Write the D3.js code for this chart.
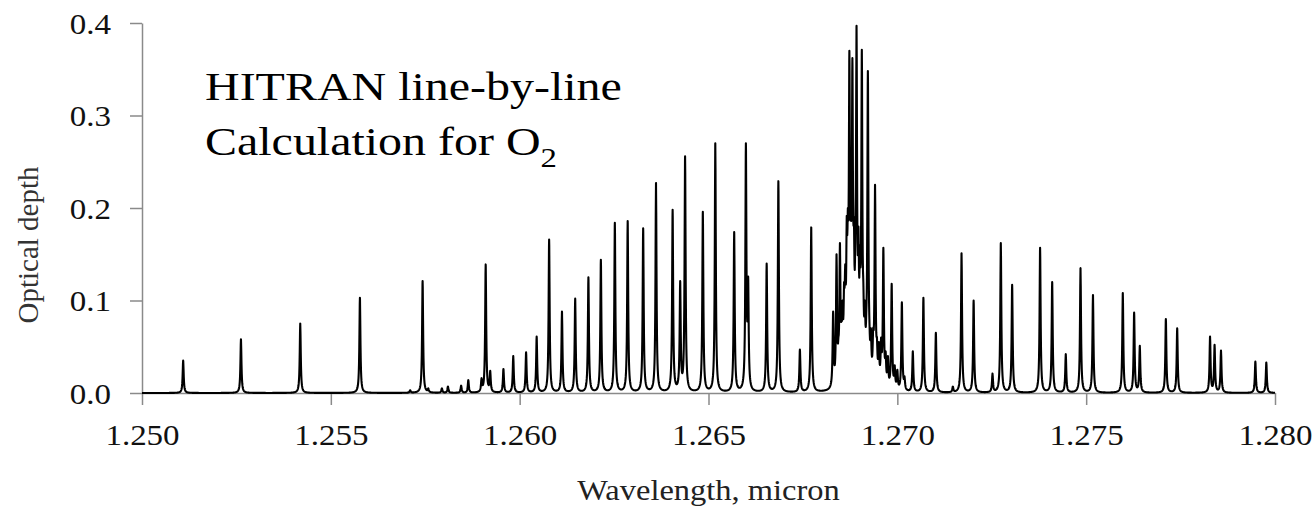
<!DOCTYPE html>
<html>
<head>
<meta charset="utf-8">
<script src="https://cdn.jsdelivr.net/npm/d3@7"></script>
<style>
  body { margin: 0; background: #fff; }
  svg { display: block; font-family: "Liberation Serif", "Times New Roman", serif; }
</style>
</head>
<body>
<div id="chart"></div>
<script>
// Line list: centre wavelength (micron) and optical depth at the peak
const lineCenters = [
  1.25109, 1.25262, 1.25419, 1.25577, 1.25710, 1.25743, 1.25758, 1.25794, 1.25810,
  1.25845, 1.25864, 1.25899, 1.25910, 1.25922, 1.25957, 1.25983, 1.26017, 1.26045,
  1.26078, 1.26112, 1.26147, 1.26182, 1.26215, 1.26252, 1.26286, 1.26327, 1.26361,
  1.26405, 1.26425, 1.26438, 1.26485, 1.26518, 1.26568, 1.26599, 1.26605, 1.26654,
  1.26685, 1.26742, 1.26772,
  // band head
  1.26830, 1.26835, 1.26839, 1.26844, 1.26848, 1.26852, 1.26855, 1.26859, 1.26862,
  1.26866, 1.26869, 1.26873, 1.26877, 1.26881, 1.26885, 1.26889, 1.26892, 1.26897,
  1.26901, 1.26906, 1.26910, 1.26914, 1.26918, 1.26922, 1.26926, 1.26930, 1.26936,
  1.26941, 1.26946, 1.26951, 1.26957, 1.26963, 1.26969, 1.26975, 1.26985, 1.26993,
  1.27000, 1.27012, 1.27019,
  // long-wave side
  1.27041, 1.27069, 1.27102, 1.27147, 1.27170, 1.27202, 1.27252, 1.27274, 1.27304,
  1.27378, 1.27410, 1.27446, 1.27485, 1.27518, 1.27597, 1.27627, 1.27642, 1.27711,
  1.27741, 1.27828, 1.27840, 1.27857, 1.27948, 1.27977
];
const lineDepths = [
  0.035, 0.058, 0.075, 0.103, 0.003, 0.121, 0.005, 0.005, 0.007,
  0.008, 0.014, 0.016, 0.139, 0.024, 0.026, 0.040, 0.044, 0.061,
  0.166, 0.088, 0.102, 0.125, 0.144, 0.184, 0.186, 0.178, 0.227,
  0.198, 0.121, 0.256, 0.196, 0.270, 0.174, 0.270, 0.126, 0.140,
  0.229, 0.047, 0.179,
  0.088, 0.030, 0.150, 0.060, 0.162, 0.080, 0.100, 0.120, 0.139,
  0.191, 0.200, 0.370, 0.200, 0.362, 0.190, 0.180, 0.397, 0.180,
  0.160, 0.371, 0.120, 0.100, 0.090, 0.348, 0.080, 0.070, 0.070,
  0.225, 0.060, 0.055, 0.060, 0.157, 0.045, 0.040, 0.118, 0.030,
  0.025, 0.098, 0.018,
  0.045, 0.103, 0.065, 0.007, 0.151, 0.100, 0.021, 0.162, 0.117,
  0.157, 0.120, 0.042, 0.135, 0.106, 0.108, 0.087, 0.051, 0.080,
  0.070, 0.061, 0.052, 0.046, 0.034, 0.033
];
const xTicks = [1.250, 1.255, 1.260, 1.265, 1.270, 1.275, 1.280];
const yTicks = [0.0, 0.1, 0.2, 0.3, 0.4];

const width = 1316;
const height = 506;
const margin = { top: 23, right: 41, bottom: 113, left: 142 };
const innerW = width - margin.left - margin.right;
const innerH = height - margin.top - margin.bottom;
const stretch = 1.1; // the text in the picture is a bit wider than plain Times

const svg = d3.select("#chart").append("svg")
  .attr("width", width)
  .attr("height", height);

const g = svg.append("g")
  .attr("transform", `translate(${margin.left},${margin.top})`);

const x = d3.scaleLinear().domain([1.250, 1.280]).range([0, innerW]);
const y = d3.scaleLinear().domain([0, 0.4]).range([innerH, 0]);

// Lorentzian line shape (half width in micron)
const halfWidth = 1.6e-5;
const shape = (d) => 1 / (1 + (d / halfWidth) * (d / halfWidth));

// solve amplitudes so the summed curve peaks at the read depths
let amps = lineDepths.slice();
for (let k = 0; k < 40; k++) {
  amps = lineCenters.map((c, i) => {
    let other = 0;
    lineCenters.forEach((c2, j) => { if (j !== i) other += amps[j] * shape(c - c2); });
    return Math.max(0, lineDepths[i] - other);
  });
}

// sample the spectrum
const step = (x.domain()[1] - x.domain()[0]) / (innerW * 4);
const grid = d3.range(x.domain()[0], x.domain()[1] + step / 2, step).concat(lineCenters);
grid.sort(d3.ascending);
const spectrum = grid.map((w) => {
  let v = 0;
  lineCenters.forEach((c, i) => { v += amps[i] * shape(w - c); });
  return [w, v];
});

// axes
const axisColor = "#8a8a8a";
const xAxis = g.append("g")
  .attr("transform", `translate(0,${innerH})`)
  .call(d3.axisBottom(x).tickValues(xTicks).tickFormat(d3.format(".3f")).tickSize(12).tickSizeOuter(0));
const yAxis = g.append("g")
  .call(d3.axisLeft(y).tickValues(yTicks).tickFormat(d3.format(".1f")).tickSize(12).tickSizeOuter(0));

[xAxis, yAxis].forEach((ax) => {
  ax.select(".domain").attr("stroke", axisColor).attr("stroke-width", 1.5);
  ax.selectAll(".tick line").attr("stroke", axisColor).attr("stroke-width", 1.5);
  ax.selectAll("text")
    .attr("fill", "#111")
    .style("font-family", "Liberation Serif")
    .style("font-size", "30px");
});

xAxis.selectAll("text")
  .attr("y", 52)
  .attr("dy", null)
  .attr("transform", `scale(${stretch},1)`);

yAxis.selectAll("text")
  .attr("x", -31 / stretch)
  .attr("dy", "0.34em")
  .attr("transform", `scale(${stretch},1)`);

// the spectrum
g.append("path")
  .datum(spectrum)
  .attr("fill", "none")
  .attr("stroke", "#000")
  .attr("stroke-width", 2.1)
  .attr("stroke-linejoin", "round")
  .attr("d", d3.line().x((d) => x(d[0])).y((d) => y(d[1])));

// axis titles
svg.append("text")
  .attr("transform", `translate(${(margin.left + width - margin.right) / 2},500) scale(1.12,1)`)
  .attr("text-anchor", "middle")
  .attr("fill", "#222")
  .style("font-size", "29px")
  .text("Wavelength, micron");

svg.append("text")
  .attr("transform", "translate(38,245) rotate(-90)")
  .attr("text-anchor", "middle")
  .attr("fill", "#333")
  .style("font-size", "29px")
  .text("Optical depth");

// annotation
const note = svg.append("g").attr("transform", "translate(205,0) scale(1.17,1)");
note.append("text")
  .attr("y", 100)
  .attr("fill", "#000")
  .style("font-size", "41px")
  .text("HITRAN line-by-line");
const note2 = note.append("text")
  .attr("y", 155)
  .attr("fill", "#000")
  .style("font-size", "41px");
note2.append("tspan").text("Calculation for O");
note2.append("tspan").attr("dy", 12).style("font-size", "28px").text("2");
</script>
</body>
</html>
